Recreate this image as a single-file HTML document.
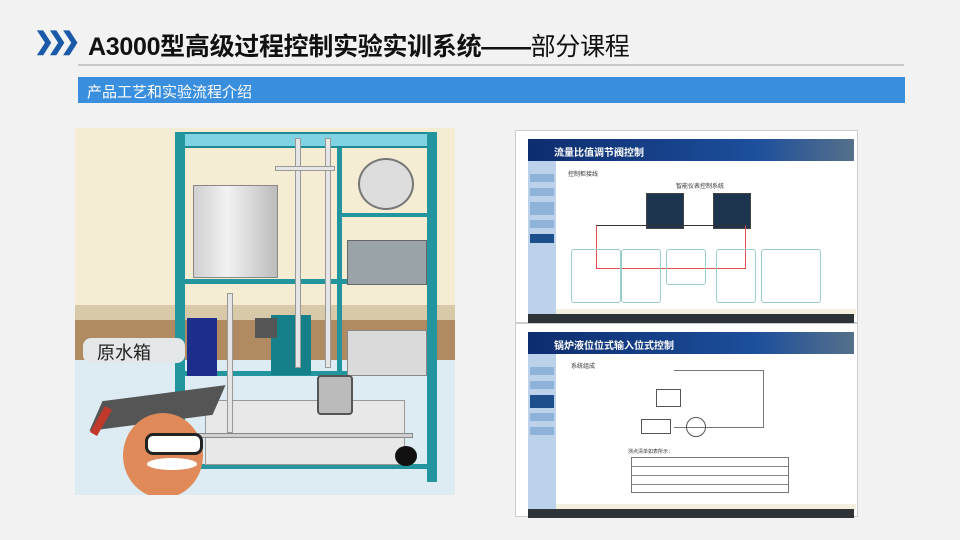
<!DOCTYPE html>
<html><head><meta charset="utf-8"><style>
*{margin:0;padding:0;box-sizing:border-box}
body{width:960px;height:540px;background:#f2f2f2;position:relative;overflow:hidden;font-family:"Liberation Sans","Noto Sans CJK SC",sans-serif}
.a{position:absolute}
.t{font-size:7px;color:#333}
.d{position:absolute;width:5px;height:5px;border-radius:50%}
</style></head><body>
<!-- header -->
<div class="a" style="left:34px;top:27px;font-size:24px;color:#1a5aa8;font-weight:bold;letter-spacing:-7px">❯❯❯</div>
<div class="a" style="left:88px;top:27px;font-size:25px;font-weight:bold;color:#111;letter-spacing:-0.3px">A3000型高级过程控制实验实训系统——<span style="font-weight:normal">部分课程</span></div>
<div class="a" style="left:78px;top:64px;width:826px;height:2px;background:#c8c8c8"></div>
<div class="a" style="left:78px;top:77px;width:827px;height:26px;background:#3a8ede"></div>
<div class="a" style="left:87px;top:81px;font-size:15px;color:#fff">产品工艺和实验流程介绍</div>

<!-- left image -->
<div class="a" style="left:75px;top:128px;width:380px;height:367px;background:#d7ebf3;overflow:hidden">
 <div class="a" style="left:0;top:0;width:380px;height:177px;background:#f4ecd3"></div>
 <div class="a" style="left:0;top:177px;width:380px;height:15px;background:#d8c9a8"></div>
 <div class="a" style="left:0;top:192px;width:380px;height:40px;background:#b08b62"></div>
 <div class="a" style="left:0;top:232px;width:380px;height:135px;background:#dcecf2"></div>
 <!-- frame -->
 <div class="a" style="left:100px;top:4px;width:262px;height:16px;background:#7fd3e3;border:2px solid #1f8a94"></div>
 <div class="a" style="left:100px;top:4px;width:10px;height:342px;background:#23959f"></div>
 <div class="a" style="left:352px;top:4px;width:10px;height:350px;background:#23959f"></div>
 <div class="a" style="left:262px;top:20px;width:5px;height:230px;background:#23959f"></div>
 <div class="a" style="left:110px;top:151px;width:242px;height:5px;background:#23959f"></div>
 <div class="a" style="left:110px;top:243px;width:242px;height:5px;background:#23959f"></div>
 <div class="a" style="left:110px;top:336px;width:242px;height:5px;background:#23959f"></div>
 <div class="a" style="left:267px;top:85px;width:85px;height:4px;background:#23959f"></div>
 <!-- tanks -->
 <div class="a" style="left:118px;top:57px;width:85px;height:93px;background:linear-gradient(90deg,#cfcfcf,#f2f2f2 40%,#bcbcbc);border:1px solid #888"></div>
 <div class="a" style="left:283px;top:30px;width:56px;height:52px;border-radius:50%;background:#ddd;border:2px solid #777"></div>
 <div class="a" style="left:272px;top:112px;width:80px;height:45px;background:#9aa3a8;border:1px solid #666"></div>
 <div class="a" style="left:272px;top:202px;width:80px;height:46px;background:#dadada;border:1px solid #888"></div>
 <div class="a" style="left:112px;top:190px;width:30px;height:58px;background:#1c2e8a"></div>
 <div class="a" style="left:196px;top:187px;width:40px;height:60px;background:#15808a"></div>
 <div class="a" style="left:180px;top:190px;width:22px;height:20px;background:#555"></div>
 <div class="a" style="left:130px;top:272px;width:200px;height:65px;background:#e8e8e8;border:1px solid #999"></div>
 <div class="a" style="left:242px;top:247px;width:36px;height:40px;background:#bbb;border:2px solid #555;border-radius:4px"></div>
 <div class="a" style="left:118px;top:305px;width:220px;height:5px;background:#d0d0d0;border:1px solid #888"></div>
 <div class="a" style="left:220px;top:10px;width:6px;height:230px;background:#e5e5e5;border:1px solid #999"></div>
 <div class="a" style="left:250px;top:10px;width:6px;height:230px;background:#e5e5e5;border:1px solid #999"></div>
 <div class="a" style="left:152px;top:165px;width:6px;height:140px;background:#e5e5e5;border:1px solid #999"></div>
 <div class="a" style="left:200px;top:38px;width:60px;height:5px;background:#e5e5e5;border:1px solid #999"></div>
 <div class="a" style="left:320px;top:318px;width:22px;height:20px;border-radius:50%;background:#111"></div>
 <!-- bubble -->
 <div class="a" style="left:8px;top:210px;width:102px;height:25px;background:#e3e7e8;border-radius:8px"></div>
 <div class="a" style="left:22px;top:211px;font-size:18px;color:#222">原水箱</div>
 <!-- mascot -->
 <div class="a" style="left:25px;top:265px;width:115px;height:30px;background:#555;transform:skewX(-30deg) rotate(-8deg)"></div>
 <div class="a" style="left:48px;top:285px;width:80px;height:85px;border-radius:50%;background:#e08a5a"></div>
 <div class="a" style="left:70px;top:305px;width:58px;height:22px;border:3px solid #222;border-radius:8px;background:#fff"></div>
 <div class="a" style="left:72px;top:330px;width:50px;height:12px;border-radius:50%;background:#fff"></div>
 <div class="a" style="left:22px;top:278px;width:8px;height:30px;background:#c0392b;transform:rotate(30deg)"></div>
</div>

<!-- right screenshot 1 -->
<div class="a" style="left:515px;top:130px;width:343px;height:193px;background:#fff;border:1px solid #ccc">
 <div class="a" style="left:12px;top:8px;width:326px;height:22px;background:linear-gradient(90deg,#0d2d6e,#1d4f9c 70%,#55708a)"></div>
 <div class="a" style="left:38px;top:13px;font-size:10px;color:#fff;font-weight:bold">流量比值调节阀控制</div>
 <div class="a" style="left:12px;top:30px;width:28px;height:153px;background:#bcd2ea"></div>
 <div class="a" style="left:14px;top:43px;width:24px;height:8px;background:#8fb2d8"></div>
 <div class="a" style="left:14px;top:57px;width:24px;height:8px;background:#8fb2d8"></div>
 <div class="a" style="left:14px;top:71px;width:24px;height:13px;background:#8fb2d8"></div>
 <div class="a" style="left:14px;top:89px;width:24px;height:8px;background:#8fb2d8"></div>
 <div class="a" style="left:14px;top:103px;width:24px;height:9px;background:#1d4f8c"></div>
 <div class="a t" style="left:52px;top:38px;font-size:6px">控制柜接线</div>
 <div class="a t" style="left:160px;top:50px;font-size:6px">智能仪表控制系统</div>
 <div class="a" style="left:130px;top:62px;width:38px;height:36px;background:#1e3550;border:1px solid #444"></div>
 <div class="a" style="left:197px;top:62px;width:38px;height:36px;background:#1e3550;border:1px solid #444"></div>
 <div class="a" style="left:80px;top:94px;width:150px;height:44px;border:1px solid #e05050;border-top-color:#333"></div>
 <div class="a" style="left:55px;top:118px;width:50px;height:54px;border:1px solid #9cc;border-radius:3px"></div>
 <div class="a" style="left:105px;top:118px;width:40px;height:54px;border:1px solid #9cc;border-radius:3px"></div>
 <div class="a" style="left:150px;top:118px;width:40px;height:36px;border:1px solid #9cc;border-radius:3px"></div>
 <div class="a" style="left:200px;top:118px;width:40px;height:54px;border:1px solid #9cc;border-radius:3px"></div>
 <div class="a" style="left:245px;top:118px;width:60px;height:54px;border:1px solid #9cc;border-radius:3px"></div>
 <div class="a" style="left:40px;top:178px;width:300px;height:6px;background:#f4f0e0"></div>
 <div class="a" style="left:12px;top:183px;width:326px;height:10px;background:#2e3338"></div>
</div>
<!-- right screenshot 2 -->
<div class="a" style="left:515px;top:323px;width:343px;height:194px;background:#fff;border:1px solid #ccc">
 <div class="a" style="left:12px;top:8px;width:326px;height:22px;background:linear-gradient(90deg,#0d2d6e,#1d4f9c 70%,#55708a)"></div>
 <div class="a" style="left:38px;top:13px;font-size:10px;color:#fff;font-weight:bold">锅炉液位位式输入位式控制</div>
 <div class="a" style="left:12px;top:30px;width:28px;height:155px;background:#bcd2ea"></div>
 <div class="a" style="left:14px;top:43px;width:24px;height:8px;background:#8fb2d8"></div>
 <div class="a" style="left:14px;top:57px;width:24px;height:8px;background:#8fb2d8"></div>
 <div class="a" style="left:14px;top:71px;width:24px;height:13px;background:#1d4f8c"></div>
 <div class="a" style="left:14px;top:89px;width:24px;height:8px;background:#8fb2d8"></div>
 <div class="a" style="left:14px;top:103px;width:24px;height:8px;background:#8fb2d8"></div>
 <div class="a t" style="left:55px;top:37px;font-size:6px">系统组成</div>
 <div class="a" style="left:158px;top:46px;width:90px;height:58px;border:1px solid #777;border-left:none"></div>
 <div class="a" style="left:140px;top:65px;width:25px;height:18px;border:1px solid #555"></div>
 <div class="a" style="left:125px;top:95px;width:30px;height:15px;border:1px solid #555"></div>
 <div class="a" style="left:170px;top:93px;width:20px;height:20px;border:1px solid #555;border-radius:50%"></div>
 <div class="a t" style="left:112px;top:124px;font-size:5px">测点清单如表所示：</div>
 <div class="a" style="left:115px;top:133px;width:158px;height:36px;border:1px solid #777;background:repeating-linear-gradient(#fff 0 8px,#888 8px 9px)"></div>
 <div class="a" style="left:40px;top:180px;width:300px;height:6px;background:#f4f0e0"></div>
 <div class="a" style="left:12px;top:185px;width:326px;height:9px;background:#2e3338"></div>
</div>
</body></html>
